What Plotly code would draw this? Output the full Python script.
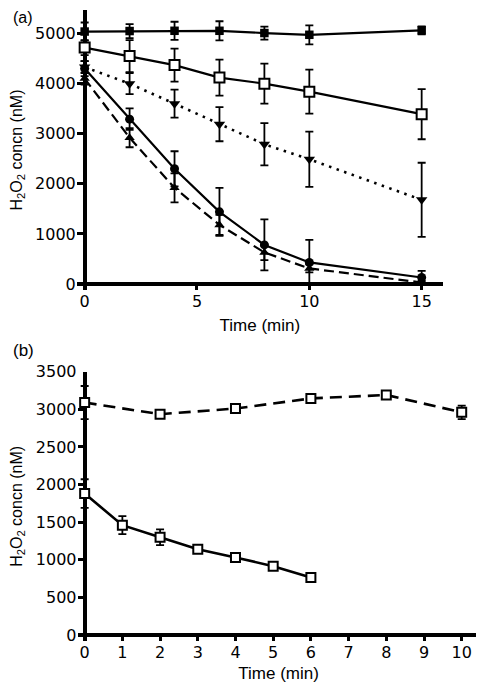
import plotly.graph_objects as go

# ---------------- data (panel a) ----------------
time_a = [0, 2, 4, 6, 8, 10, 15]
sq_filled = [5040, 5050, 5055, 5055, 5010, 4975, 5065]
sq_filled_err = [180, 140, 180, 190, 130, 190, 80]
sq_open = [4720, 4550, 4370, 4120, 4000, 3840, 3390]
sq_open_err = [150, 320, 330, 360, 400, 440, 500]
tri_down = [4330, 4000, 3600, 3190, 2790, 2490, 1680]
tri_down_err = [120, 210, 280, 340, 420, 550, 740]
circ = [4300, 3290, 2300, 1440, 780, 430, 130]
circ_err = [150, 215, 350, 480, 510, 450, 133]
tri_up = [4100, 2920, 1920, 1180, 630, 310, 30]
tri_up_err = [120, 190, 290, 200, 155, 80, 30]

# ---------------- data (panel b) ----------------
time_b_ctrl = [0, 2, 4, 6, 8, 10]
ctrl_b = [3090, 2935, 3010, 3145, 3190, 2960]
ctrl_b_err = [220, 50, 30, 30, 40, 90]
time_b = [0, 1, 2, 3, 4, 5, 6]
decay_b = [1880, 1460, 1300, 1140, 1030, 915, 765]
decay_b_err = [190, 120, 105, 30, 30, 30, 20]

xticks_a = [0, 5, 10, 15]
yticks_a = [0, 1000, 2000, 3000, 4000, 5000]
xticks_b = list(range(0, 11))
yticks_b = [0, 500, 1000, 1500, 2000, 2500, 3000, 3500]

BLACK = "black"
TICKFONT = dict(family="DejaVu Sans", size=16, color=BLACK)
TITLEFONT = dict(family="Liberation Sans", size=16, color=BLACK)


def err(vals):
    return dict(type="data", array=vals, visible=True, color=BLACK,
                thickness=1.8, width=4)


def trace(x, y, e, symbol, size, dash, xa, ya, open_marker=False, lw=2.2):
    marker = dict(symbol=symbol, size=size, color=BLACK)
    if open_marker:
        marker = dict(symbol=symbol, size=size, color="white",
                      line=dict(color=BLACK, width=2))
    return go.Scatter(x=x, y=y, error_y=err(e), mode="lines+markers",
                      line=dict(color=BLACK, width=lw, dash=dash),
                      marker=marker, xaxis=xa, yaxis=ya,
                      cliponaxis=False, showlegend=False)


fig = go.Figure()
# panel a
fig.add_trace(trace(time_a, tri_up, tri_up_err, "triangle-up", 9, "10px,5px", "x", "y"))
fig.add_trace(trace(time_a, circ, circ_err, "circle", 9, "solid", "x", "y"))
fig.add_trace(trace(time_a, tri_down, tri_down_err, "triangle-down", 10, "2.5px,5.5px", "x", "y", lw=2.6))
fig.add_trace(trace(time_a, sq_open, sq_open_err, "square", 10, "solid", "x", "y", open_marker=True))
fig.add_trace(trace(time_a, sq_filled, sq_filled_err, "square", 8.5, "solid", "x", "y"))
# panel b
fig.add_trace(trace(time_b_ctrl, ctrl_b, ctrl_b_err, "square", 9, "12px,7px", "x2", "y2", open_marker=True, lw=2.6))
fig.add_trace(trace(time_b, decay_b, decay_b_err, "square", 9, "solid", "x2", "y2", open_marker=True, lw=2.6))

# the page body adds an 8px offset; layout positions below are page pixels minus 8
OFF = 8
W, H = 484 - OFF, 687 - OFF


def px(v):
    return (v - OFF) / W


def py(v):
    return (H - (v - OFF)) / H


common_x = dict(showgrid=False, showline=False, zeroline=True, zerolinewidth=4,
                zerolinecolor=BLACK, ticks="inside", ticklen=7, tickwidth=3,
                tickcolor=BLACK, tickfont=TICKFONT, automargin=False)
common_y = dict(showgrid=False, showline=False, zeroline=True, zerolinewidth=4,
                zerolinecolor=BLACK, ticks="inside", ticklen=8, tickwidth=2.5,
                tickcolor=BLACK, tickfont=TICKFONT, automargin=False)

fig.update_layout(
    width=W, height=H,
    margin=dict(l=0, r=0, t=0, b=0),
    paper_bgcolor="white", plot_bgcolor="white",
    xaxis=dict(common_x, domain=[px(76.8), px(443)], range=[-0.35, 15.95],
               tickvals=xticks_a, anchor="y",
               title=dict(text="Time (min)", font=dict(TITLEFONT, size=17), standoff=9)),
    yaxis=dict(common_y, domain=[py(290), py(10)], range=[-120, 5470],
               tickvals=yticks_a, anchor="x",
               title=dict(text="H<sub>2</sub>O<sub>2</sub> concn (nM)", font=TITLEFONT, standoff=14)),
    xaxis2=dict(common_x, domain=[px(77.5), px(479.8)], range=[-0.19, 10.48],
                tickvals=xticks_b, anchor="y2",
                title=dict(text="Time (min)", font=dict(TITLEFONT, size=17), standoff=6)),
    yaxis2=dict(common_y, domain=[py(641), py(371.7)], range=[-80, 3500],
                tickvals=yticks_b, anchor="x2",
                title=dict(text="H<sub>2</sub>O<sub>2</sub> concn (nM)", font=TITLEFONT, standoff=14)),
    annotations=[
        dict(text="(a)", x=px(23), y=py(18), xref="paper", yref="paper",
             xanchor="center", yanchor="middle",
             showarrow=False, font=dict(family="Liberation Sans", size=16, color=BLACK)),
        dict(text="(b)", x=px(23), y=py(350), xref="paper", yref="paper",
             xanchor="center", yanchor="middle",
             showarrow=False, font=dict(family="Liberation Sans", size=17, color=BLACK)),
    ],
)

fig.write_html("out.html")
